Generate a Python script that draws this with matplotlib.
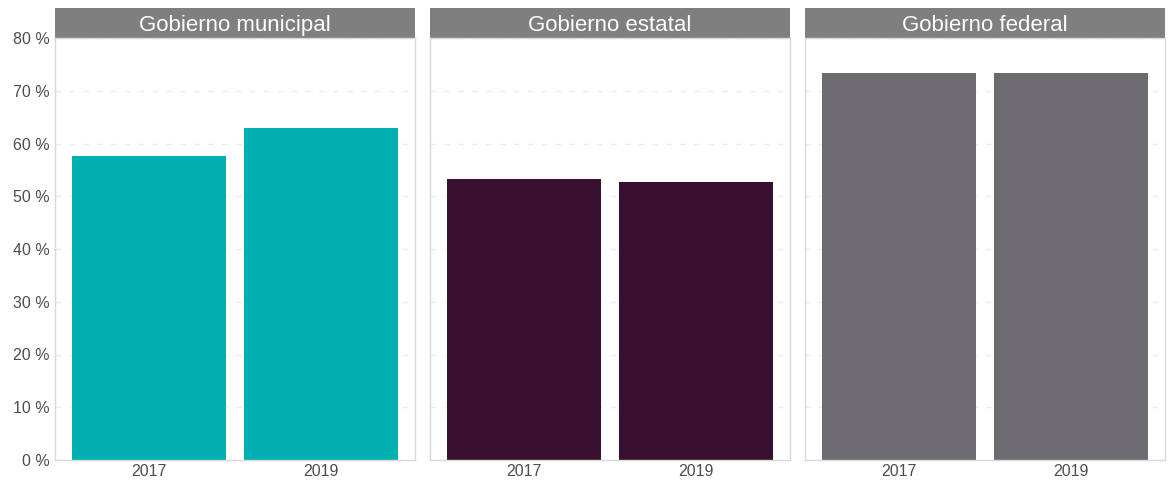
import numpy as np
import matplotlib.pyplot as plt
from matplotlib.patches import Rectangle
from matplotlib.ticker import FuncFormatter

plt.rcParams['font.family'] = ['Liberation Sans', 'DejaVu Sans']

# data
years = ['2017', '2019']
panels = ['Gobierno municipal', 'Gobierno estatal', 'Gobierno federal']
municipal = [57.7, 63.0]
estatal = [53.3, 52.7]
federal = [73.4, 73.4]
colors = ['#00b0b0', '#3a1030', '#6e6b70']

values = [municipal, estatal, federal]

W, H = 1168, 483
fig = plt.figure(figsize=(W / 100, H / 100), dpi=100)

lefts = [55, 430, 805]
pw = 360
bottom, top = 460, 38
strip_h = 30
ph = bottom - top

x = np.arange(1, len(years) + 1)
for i, (name, vals, col) in enumerate(zip(panels, values, colors)):
    ax = fig.add_axes([lefts[i] / W, (H - bottom) / H, pw / W, ph / H])
    ax.bar(x, vals, width=0.9, color=col, zorder=2)
    ax.set_xlim(0.45, 2.55)
    ax.set_ylim(0, 80)
    ax.set_yticks(np.arange(0, 81, 10))
    ax.set_xticks(x)
    ax.set_xticklabels(years)
    ax.yaxis.set_major_formatter(FuncFormatter(lambda v, p: f'{v:.0f} %'))
    ax.grid(axis='y', color='#ebebeb', linestyle=(0, (4, 6)), linewidth=1, zorder=0)
    ax.tick_params(length=0, labelsize=11.5, labelcolor='#4d4d4d')
    ax.tick_params(axis='x', pad=3)
    ax.tick_params(axis='y', pad=4)
    if i > 0:
        ax.tick_params(labelleft=False)
    for s in ax.spines.values():
        s.set_color('#d9d9d9')
        s.set_linewidth(1)
    ax.add_patch(Rectangle((0, 1), 1, strip_h / ph, transform=ax.transAxes,
                           clip_on=False, facecolor='#7f7f7f', edgecolor='none'))
    ax.text(0.5, 1 + 13 / ph, name, transform=ax.transAxes,
            ha='center', va='center', color='white', fontsize=16)

plt.savefig('out.png', dpi=100)
